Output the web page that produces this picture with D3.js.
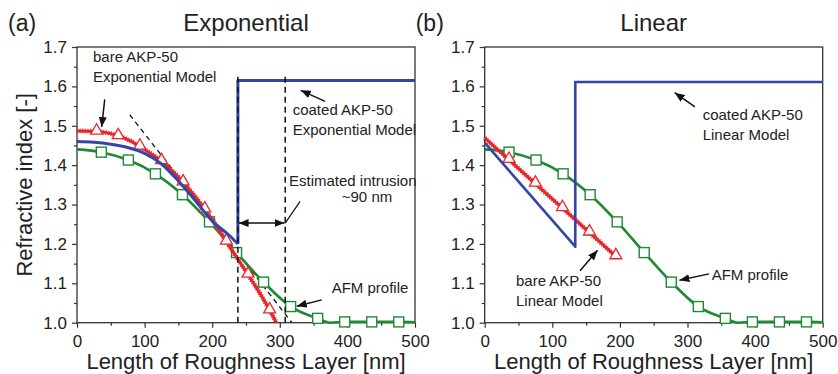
<!DOCTYPE html>
<html>
<head>
<meta charset="utf-8">
<script src="https://cdn.jsdelivr.net/npm/d3@7"></script>
<style>
  body { margin: 0; background: #fff; }
  svg { display: block; font-family: Arial, "Liberation Sans", sans-serif; }
</style>
</head>
<body>
<div id="chart"></div>
<script>
// AFM profile (same in both panels)
const afmX = [0, 36, 76, 116, 156, 196, 236, 276, 316, 356, 375, 396, 436, 476, 500];
const afmN = [1.44, 1.433, 1.413, 1.378, 1.325, 1.256, 1.178, 1.103, 1.041, 1.011, 1.0, 1.002, 1.002, 1.002, 1.001];
const afmMarkX = [36, 76, 116, 156, 196, 236, 276, 316, 356, 396, 436, 476];

// (a) exponential model
const bareExpX = [0, 25, 50, 75, 100, 125, 150, 175, 200, 225, 250, 275, 295];
const bareExpN = [1.487, 1.486, 1.48, 1.465, 1.44, 1.41, 1.37, 1.32, 1.262, 1.195, 1.13, 1.062, 1.0];
const bareExpMarkX = [29, 61, 93, 125, 157, 189, 221, 253, 285];
const coatedExpX = [0, 25, 50, 75, 100, 125, 150, 175, 200, 225, 238];
const coatedExpN = [1.46, 1.458, 1.453, 1.445, 1.43, 1.403, 1.36, 1.31, 1.258, 1.222, 1.2];
const coatedExpTop = 1.615;
const guideX = [78, 318];
const guideN = [1.528, 1.0];
const intrusionX = [238, 308];

// (b) linear model
const bareLinX = [0, 195];
const bareLinN = [1.469, 1.167];
const bareLinMarkX = [36, 75, 115, 155, 194];
const coatedLinX = [0, 134];
const coatedLinN = [1.457, 1.193];
const coatedLinTop = 1.611;

const xTicks = [0, 100, 200, 300, 400, 500];
const yTicks = [1.0, 1.1, 1.2, 1.3, 1.4, 1.5, 1.6, 1.7];

const RED = '#e8262b', GREEN = '#1f8a34', BLUE = '#3346a8', INK = '#222';

const svg = d3.select('#chart').append('svg')
    .attr('width', 838)
    .attr('height', 374);

const defs = svg.append('defs');
defs.append('marker')
    .attr('id', 'head')
    .attr('viewBox', '0 0 10 8')
    .attr('refX', 10).attr('refY', 4)
    .attr('markerWidth', 10).attr('markerHeight', 8)
    .attr('markerUnits', 'userSpaceOnUse')
    .attr('orient', 'auto-start-reverse')
    .append('path').attr('d', 'M0,0L10,4L0,8z').attr('fill', '#111');

const y = d3.scaleLinear().domain([1.0, 1.7]).range([322.7, 47]);

function interp(xs, ns, v) {
    // value of a drawn series at one of its marker positions
    for (let i = 1; i < xs.length; i++) {
        if (v <= xs[i]) {
            const t = (v - xs[i - 1]) / (xs[i] - xs[i - 1]);
            return ns[i - 1] + t * (ns[i] - ns[i - 1]);
        }
    }
    return ns[ns.length - 1];
}

function drawPanel(x0, x1, tag, title) {
    const x = d3.scaleLinear().domain([0, 500]).range([x0, x1]);
    const g = svg.append('g');

    // axes
    g.append('g').attr('transform', 'translate(0,' + y(1.0) + ')')
        .call(d3.axisBottom(x).tickValues(xTicks).tickSize(5).tickPadding(7).tickFormat(d3.format('d')));
    g.append('g').attr('transform', 'translate(0,' + y(1.0) + ')')
        .call(d3.axisBottom(x).tickValues(d3.range(50, 500, 100)).tickSize(3).tickFormat(''));
    g.append('g').attr('transform', 'translate(' + x0 + ',0)')
        .call(d3.axisLeft(y).tickValues(yTicks).tickSize(5).tickPadding(5).tickFormat(d3.format('.1f')));
    g.append('g').attr('transform', 'translate(' + x0 + ',0)')
        .call(d3.axisLeft(y).tickValues(d3.range(1.05, 1.7, 0.1)).tickSize(3).tickFormat(''));
    g.selectAll('.domain').remove();
    g.selectAll('.tick line').attr('stroke', '#333').attr('stroke-width', 1.2);
    g.selectAll('.tick text').attr('font-size', 17).attr('fill', INK)
        .attr('font-family', 'Arial, "Liberation Sans", sans-serif');

    g.append('rect')
        .attr('x', x0).attr('y', y(1.7))
        .attr('width', x1 - x0).attr('height', y(1.0) - y(1.7))
        .attr('fill', 'none').attr('stroke', '#333').attr('stroke-width', 1.3);

    // labels
    g.append('text').attr('x', (x0 + x1) / 2).attr('y', 369)
        .attr('text-anchor', 'middle').attr('font-size', 22).attr('fill', INK)
        .text('Length of Roughness Layer [nm]');
    g.append('text').attr('x', (x0 + x1) / 2).attr('y', 31)
        .attr('text-anchor', 'middle').attr('font-size', 24).attr('fill', INK)
        .text(title);
    g.append('text').attr('x', x0 - 69).attr('y', 31)
        .attr('font-size', 23).attr('fill', INK).text(tag);

    return { g: g, x: x };
}

function line(g, x, xs, ns, color, width, curve) {
    return g.append('path')
        .datum(xs.map((d, i) => [d, ns[i]]))
        .attr('d', d3.line().x(d => x(d[0])).y(d => y(d[1])).curve(curve || d3.curveLinear))
        .attr('fill', 'none').attr('stroke', color).attr('stroke-width', width)
        .attr('stroke-linejoin', 'round');
}

function redLine(g, x, xs, ns, curve) {
    line(g, x, xs, ns, RED, 3, curve);
    // densely marked look of the original red curve
    line(g, x, xs, ns, RED, 4.8, curve).attr('stroke-dasharray', '1 1.6');
}

function squares(g, x, marks) {
    g.selectAll(null).data(marks).enter().append('rect')
        .attr('x', d => x(d) - 5).attr('y', d => y(interp(afmX, afmN, d)) - 5)
        .attr('width', 10).attr('height', 10)
        .attr('fill', '#fff').attr('stroke', GREEN).attr('stroke-width', 1.4);
}

function triangles(g, x, xs, ns, marks) {
    g.selectAll(null).data(marks).enter().append('path')
        .attr('d', d3.symbol(d3.symbolTriangle, 62))
        .attr('transform', d => 'translate(' + x(d) + ',' + (y(interp(xs, ns, d)) - 1) + ')')
        .attr('fill', '#fff').attr('stroke', RED).attr('stroke-width', 1.3);
}

function arrow(g, x, from, to) {
    g.append('line')
        .attr('x1', x(from[0])).attr('y1', y(from[1]))
        .attr('x2', x(to[0])).attr('y2', y(to[1]))
        .attr('stroke', '#111').attr('stroke-width', 1.5)
        .attr('marker-end', 'url(#head)');
}

function note(g, px, py, lines) {
    const t = g.append('text').attr('font-size', 15).attr('fill', INK);
    lines.forEach((s, i) => t.append('tspan').attr('x', px).attr('y', py + i * 19.5).text(s));
}

// ---------- (a) Exponential ----------
const a = drawPanel(77, 415, '(a)', 'Exponential');

line(a.g, a.x, guideX, guideN, '#111', 1.3).attr('stroke-dasharray', '5 4');
line(a.g, a.x, afmX, afmN, GREEN, 2.6, d3.curveMonotoneX);
squares(a.g, a.x, afmMarkX);
redLine(a.g, a.x, bareExpX, bareExpN, d3.curveMonotoneX);
triangles(a.g, a.x, bareExpX, bareExpN, bareExpMarkX);
line(a.g, a.x, coatedExpX, coatedExpN, BLUE, 3, d3.curveMonotoneX);
line(a.g, a.x, [coatedExpX[coatedExpX.length - 1], coatedExpX[coatedExpX.length - 1], 500],
    [coatedExpN[coatedExpN.length - 1], coatedExpTop, coatedExpTop], BLUE, 3);

intrusionX.forEach(v => {
    line(a.g, a.x, [v, v], [1.0, 1.63], '#111', 1.5).attr('stroke-dasharray', '6 4');
});
a.g.append('line')
    .attr('x1', a.x(intrusionX[0] + 1)).attr('x2', a.x(intrusionX[1] - 1))
    .attr('y1', y(1.253)).attr('y2', y(1.253))
    .attr('stroke', '#111').attr('stroke-width', 1.5)
    .attr('marker-start', 'url(#head)').attr('marker-end', 'url(#head)');
line(a.g, a.x, [intrusionX[1], 330], [1.253, 1.308], '#111', 1.2);

note(a.g, 93, 62, ['bare AKP-50', 'Exponential Model']);
arrow(a.g, a.x, [41, 1.567], [36.5, 1.497]);
note(a.g, 292.7, 115, ['coated AKP-50', 'Exponential Model']);
arrow(a.g, a.x, [367, 1.562], [331, 1.59]);
note(a.g, 289, 186, ['Estimated intrusion']);
a.g.append('text').attr('x', 367).attr('y', 202).attr('text-anchor', 'middle')
    .attr('font-size', 15).attr('fill', INK).text('~90 nm');
note(a.g, 331.7, 293.3, ['AFM profile']);
arrow(a.g, a.x, [362, 1.058], [325, 1.042]);

// Y axis title (left panel only)
svg.append('text')
    .attr('transform', 'translate(32,' + ((y(1.0) + y(1.7)) / 2) + ') rotate(-90)')
    .attr('text-anchor', 'middle').attr('font-size', 22).attr('fill', INK)
    .text('Refractive index [-]');

// ---------- (b) Linear ----------
const b = drawPanel(484.7, 822.7, '(b)', 'Linear');

line(b.g, b.x, afmX, afmN, GREEN, 2.6, d3.curveMonotoneX);
squares(b.g, b.x, afmMarkX);
redLine(b.g, b.x, bareLinX, bareLinN);
triangles(b.g, b.x, bareLinX, bareLinN, bareLinMarkX);
line(b.g, b.x, coatedLinX.concat([coatedLinX[1], 500]),
    coatedLinN.concat([coatedLinTop, coatedLinTop]), BLUE, 2.6);

note(b.g, 702.7, 120, ['coated AKP-50', 'Linear Model']);
arrow(b.g, b.x, [311, 1.548], [281, 1.584]);
note(b.g, 516, 286, ['bare AKP-50', 'Linear Model']);
arrow(b.g, b.x, [141, 1.132], [167, 1.184]);
note(b.g, 711.7, 280, ['AFM profile']);
arrow(b.g, b.x, [332, 1.124], [288, 1.108]);
</script>
</body>
</html>
